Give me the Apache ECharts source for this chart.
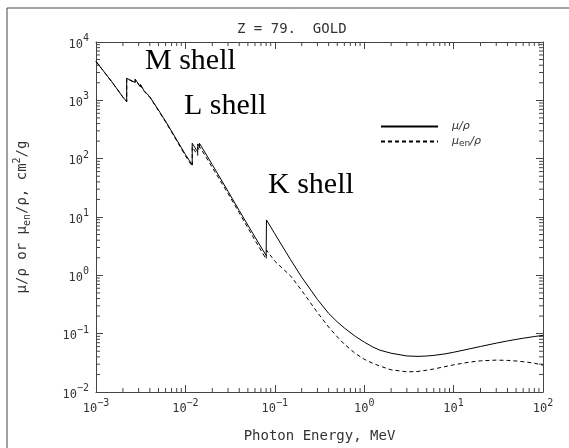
<!DOCTYPE html>
<html><head><meta charset="utf-8">
<script src="https://cdn.jsdelivr.net/npm/echarts@6/dist/echarts.min.js"></script>
<style>html,body{margin:0;padding:0;background:#fff}#c{width:569px;height:448px}</style>
</head><body><div id="c"></div>
<script>
// Photon energy (MeV); repeated energies are absorption edges
const energy = [0.001,0.0015,0.002,0.002206,0.002206,0.002291,0.002291,0.002743,0.002743,0.003148,0.003148,0.003425,0.003425,0.004,0.005,0.006,0.008,0.010,0.011918,0.011918,0.013734,0.013734,0.014353,0.014353,0.015,0.020,0.030,0.040,0.050,0.060,0.080,0.080725,0.080725,0.100,0.150,0.200,0.300,0.400,0.500,0.600,0.800,1.0,1.25,1.5,2.0,3.0,4.0,5.0,6.0,8.0,10,15,20,30,40,50,60,80,100];
const muRho = [4652,2089,1137,950,2390,2230,2560,2020,2300,1700,1870,1480,1570,1150,680,440,210,118,78,184,130,179,160,183,164,78.8,27.5,12.9,7.26,4.53,2.19,2.14,8.90,5.16,1.86,0.928,0.386,0.223,0.159,0.125,0.0894,0.0718,0.0590,0.0521,0.0462,0.0415,0.0408,0.0414,0.0424,0.0450,0.0480,0.0548,0.0603,0.0688,0.0750,0.0797,0.0835,0.0893,0.0935];
const muEnRho = [4645,2082,1130,943,2360,2200,2520,1990,2260,1670,1830,1450,1535,1125,665,428,202,112,74,160,114,156,140,162,146,70.5,25.2,11.8,6.5,4.0,1.90,1.86,2.7,1.75,0.98,0.55,0.23,0.130,0.088,0.066,0.0455,0.0365,0.0310,0.0278,0.0240,0.0222,0.0225,0.0236,0.0248,0.0272,0.0292,0.0325,0.0342,0.0352,0.0348,0.0340,0.0331,0.0312,0.0288];
const xDecades = [-3,-2,-1,0,1,2];
const yDecades = [-2,-1,0,1,2,3,4];
const minorMults = [2,3,4,5,6,7,8,9];
const seriesNames = ['μ/ρ','μen/ρ'];
const titleText = 'Z = 79.  GOLD';
const xTitle = 'Photon Energy, MeV';
const yTitleParts = ['μ/ρ or μ','en','/ρ, cm','2','/g'];
const shellLabels = ['M shell','L shell','K shell'];

const XMIN=1e-3, XMAX=1e2, YMIN=1e-2, YMAX=1e4;
const xMinor=[], yMinor=[];
for (let i=0;i<xDecades.length-1;i++) for (const m of minorMults) xMinor.push(m*Math.pow(10,xDecades[i]));
for (let i=0;i<yDecades.length-1;i++) for (const m of minorMults) yMinor.push(m*Math.pow(10,yDecades[i]));

const txt = '#333';
function supLabel(v){
  const e = Math.round(Math.log10(v));
  return '{b|10}{s|' + (e<0 ? '−'+(-e) : e) + '}';
}
const richLab = {
  b:{fontFamily:'DejaVu Sans Mono',fontSize:12,color:txt,lineHeight:17,verticalAlign:'bottom'},
  s:{fontFamily:'DejaVu Sans Mono',fontSize:10,color:txt,lineHeight:17,verticalAlign:'top'}
};
const nameFont = {fontFamily:'DejaVu Sans Mono',color:txt};
const yNameRich = {
  t:Object.assign({fontSize:14,lineHeight:20,verticalAlign:'middle'},nameFont),
  sub:Object.assign({fontSize:10,lineHeight:20,verticalAlign:'bottom'},nameFont),
  sup:Object.assign({fontSize:10,lineHeight:20,verticalAlign:'top'},nameFont)
};
const yName = '{t|'+yTitleParts[0]+'}{sub|'+yTitleParts[1]+'}{t|'+yTitleParts[2]+'}{sup|'+yTitleParts[3]+'}{t|'+yTitleParts[4]+'}';
const axisCommon = {
  type:'log', logBase:10,
  axisLine:{show:true,lineStyle:{color:'#444',width:1}},
  axisTick:{show:true,inside:true,length:7,lineStyle:{color:'#444'}},
  splitLine:{show:false}, minorTick:{show:false}
};
const pairs = (ys)=>energy.map((e,i)=>[e,ys[i]]);

const chart = echarts.init(document.getElementById('c'),null,{renderer:'canvas'});
chart.setOption({
  animation:false,
  backgroundColor:'#fff',
  title:{text:titleText,left:232,top:17,textStyle:{fontFamily:'DejaVu Sans Mono',fontSize:14,fontWeight:'normal',color:txt}},
  grid:{left:96,top:42,right:26,bottom:51,containLabel:false},
  xAxis:[
    Object.assign({},axisCommon,{position:'bottom',min:XMIN,max:XMAX,
      name:xTitle,nameLocation:'middle',nameGap:37,
      nameTextStyle:{fontFamily:'DejaVu Sans Mono',fontSize:14,color:txt},
      axisLabel:{margin:6,formatter:supLabel,rich:richLab}}),
    Object.assign({},axisCommon,{position:'top',min:XMIN,max:XMAX,axisLabel:{show:false}})
  ],
  yAxis:[
    Object.assign({},axisCommon,{position:'left',min:YMIN,max:YMAX,
      name:yName,nameLocation:'middle',nameGap:64,nameRotate:90,
      nameTextStyle:{rich:yNameRich},
      axisLabel:{margin:7,formatter:supLabel,rich:richLab}}),
    Object.assign({},axisCommon,{position:'right',min:YMIN,max:YMAX,axisLabel:{show:false}})
  ],
  legend:{
    data:seriesNames, orient:'vertical', left:375, top:116,
    itemWidth:57, itemHeight:10, itemGap:4,
    itemStyle:{color:'rgba(0,0,0,0)',borderWidth:0,opacity:0},
    formatter:function(n){
      return n===seriesNames[0] ? '{a|μ/ρ}' : '{a|μ}{sub|en}{a|/ρ}';
    },
    textStyle:{padding:[0,0,0,9],rich:{
      a:{fontFamily:'DejaVu Sans',fontStyle:'italic',fontSize:11,color:txt,lineHeight:14,verticalAlign:'middle'},
      sub:{fontFamily:'DejaVu Sans',fontSize:9,color:txt,lineHeight:14,verticalAlign:'bottom'}
    }}
  },
  graphic:[
    {type:'rect',shape:{x:7,y:8,width:600,height:500},style:{fill:'none',stroke:'#444',lineWidth:1},silent:true,z:-10},
    {type:'text',left:145,top:46,style:{text:shellLabels[0],font:'30px "Liberation Serif"',fill:'#000'}},
    {type:'text',left:184,top:91,style:{text:shellLabels[1],font:'30px "Liberation Serif"',fill:'#000'}},
    {type:'text',left:268,top:170,style:{text:shellLabels[2],font:'30px "Liberation Serif"',fill:'#000'}}
  ],
  series:[
    {name:seriesNames[0],type:'line',data:pairs(muRho),symbol:'none',showSymbol:false,
      lineStyle:{color:'#000',width:1},itemStyle:{color:'#000'},z:3},
    {name:seriesNames[1],type:'line',data:pairs(muEnRho),symbol:'none',showSymbol:false,
      lineStyle:{color:'#000',width:1,type:[4,3]},itemStyle:{color:'#000'},z:2},
    {type:'custom',silent:true,clip:false,data:xMinor.map(v=>[v]),encode:{x:0},
      renderItem:function(params,api){
        const v=api.value(0);
        const b=api.coord([v,YMIN]), t=api.coord([v,YMAX]);
        const st={stroke:'#444',lineWidth:1};
        return {type:'group',children:[
          {type:'line',shape:{x1:b[0],y1:b[1],x2:b[0],y2:b[1]-4},style:st},
          {type:'line',shape:{x1:t[0],y1:t[1],x2:t[0],y2:t[1]+4},style:st}
        ]};
      }},
    {type:'custom',silent:true,clip:false,data:yMinor.map(v=>[XMIN,v]),encode:{x:0,y:1},
      renderItem:function(params,api){
        const v=api.value(1);
        const l=api.coord([XMIN,v]), r=api.coord([XMAX,v]);
        const st={stroke:'#444',lineWidth:1};
        return {type:'group',children:[
          {type:'line',shape:{x1:l[0],y1:l[1],x2:l[0]+4,y2:l[1]},style:st},
          {type:'line',shape:{x1:r[0],y1:r[1],x2:r[0]-4,y2:r[1]},style:st}
        ]};
      }}
  ]
});
</script></body></html>
